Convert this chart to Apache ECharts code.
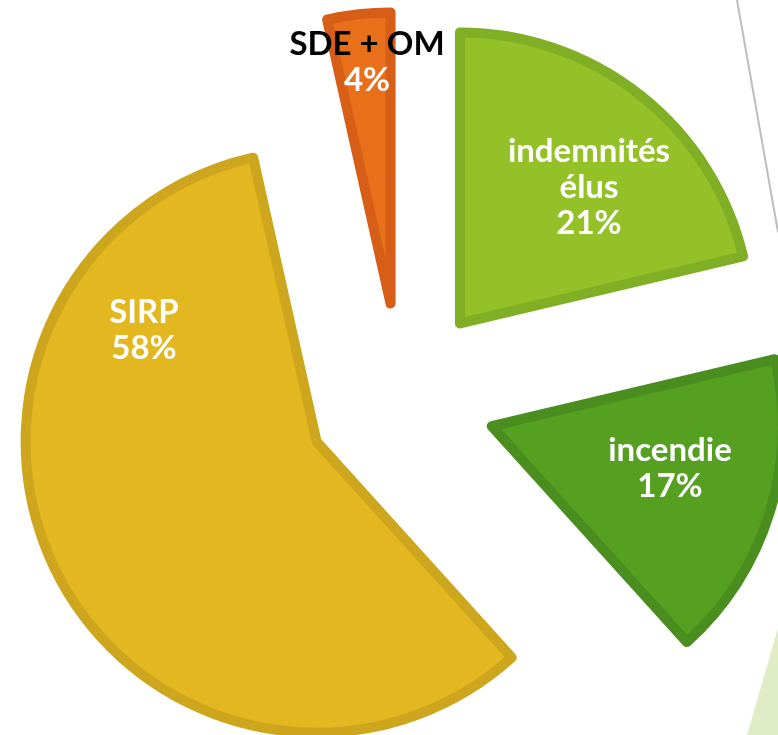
<!DOCTYPE html>
<html>
<head>
<meta charset="utf-8">
<script src="https://cdn.jsdelivr.net/npm/echarts@6/dist/echarts.min.js"></script>
<style>
html,body{margin:0;padding:0;background:#fff;}
#chart{width:778px;height:735px;}
</style>
</head>
<body>
<div id="chart"></div>
<script>
// Data
const categories = ['indemnités élus', 'incendie', 'SIRP', 'SDE + OM'];
const labelNames = ['indemnités\nélus', 'incendie', 'SIRP', 'SDE + OM'];
const shares = [21.3, 17.0, 58.2, 3.5];

// Styling / layout
const fillColors = ['#93C127', '#55A021', '#E3B71F', '#E8701A'];
const borderColors = ['#80AE24', '#4B8E20', '#CEA61E', '#D65E16'];
const nameColors = ['#ffffff', '#ffffff', '#ffffff', '#000000'];
const labelCenters = [[589, 187], [670, 468], [144, 330], [367, 62]];

const chart = echarts.init(document.getElementById('chart'), null, {renderer: 'canvas'});

const font = 'Lato';
const FS = 33, LH = 36;

const data = categories.map((c, i) => ({
  name: c,
  value: shares[i],
  selected: true,
  itemStyle: {color: fillColors[i], borderColor: borderColors[i], borderWidth: 10}
}));

const labelTexts = categories.map((c, i) => {
  const pct = Math.round(shares[i]) + '%';
  const lines = labelNames[i].split('\n');
  return {
    type: 'text',
    z: 100,
    x: labelCenters[i][0],
    y: labelCenters[i][1],
    style: {
      text: '{n|' + lines.join('}\n{n|') + '}\n{w|' + pct + '}',
      align: 'center',
      verticalAlign: 'middle',
      fontFamily: font,
      fontWeight: 'bold',
      fontSize: FS,
      lineHeight: LH,
      rich: {
        n: {fill: nameColors[i], fontFamily: font, fontWeight: 'bold', fontSize: FS, lineHeight: LH, align: 'center'},
        w: {fill: '#ffffff', fontFamily: font, fontWeight: 'bold', fontSize: FS, lineHeight: LH, align: 'center'}
      }
    }
  };
});

chart.setOption({
  animation: false,
  backgroundColor: '#ffffff',
  graphic: [
    {type: 'line', shape: {x1: 737, y1: 0, x2: 778, y2: 232}, style: {stroke: '#BDBDBD', lineWidth: 2}, z: 0},
    {type: 'polygon', shape: {points: [[778, 628], [747, 735], [778, 735]]}, style: {fill: '#E0ECC6'}, z: 0}
  ].concat(labelTexts),
  series: [{
    type: 'pie',
    center: [401, 398],
    radius: [0, 291],
    startAngle: 90,
    clockwise: true,
    selectedMode: 'multiple',
    selectedOffset: 95,
    avoidLabelOverlap: false,
    emphasis: {disabled: true},
    label: {show: false},
    labelLine: {show: false},
    data: data
  }]
});
</script>
</body>
</html>
